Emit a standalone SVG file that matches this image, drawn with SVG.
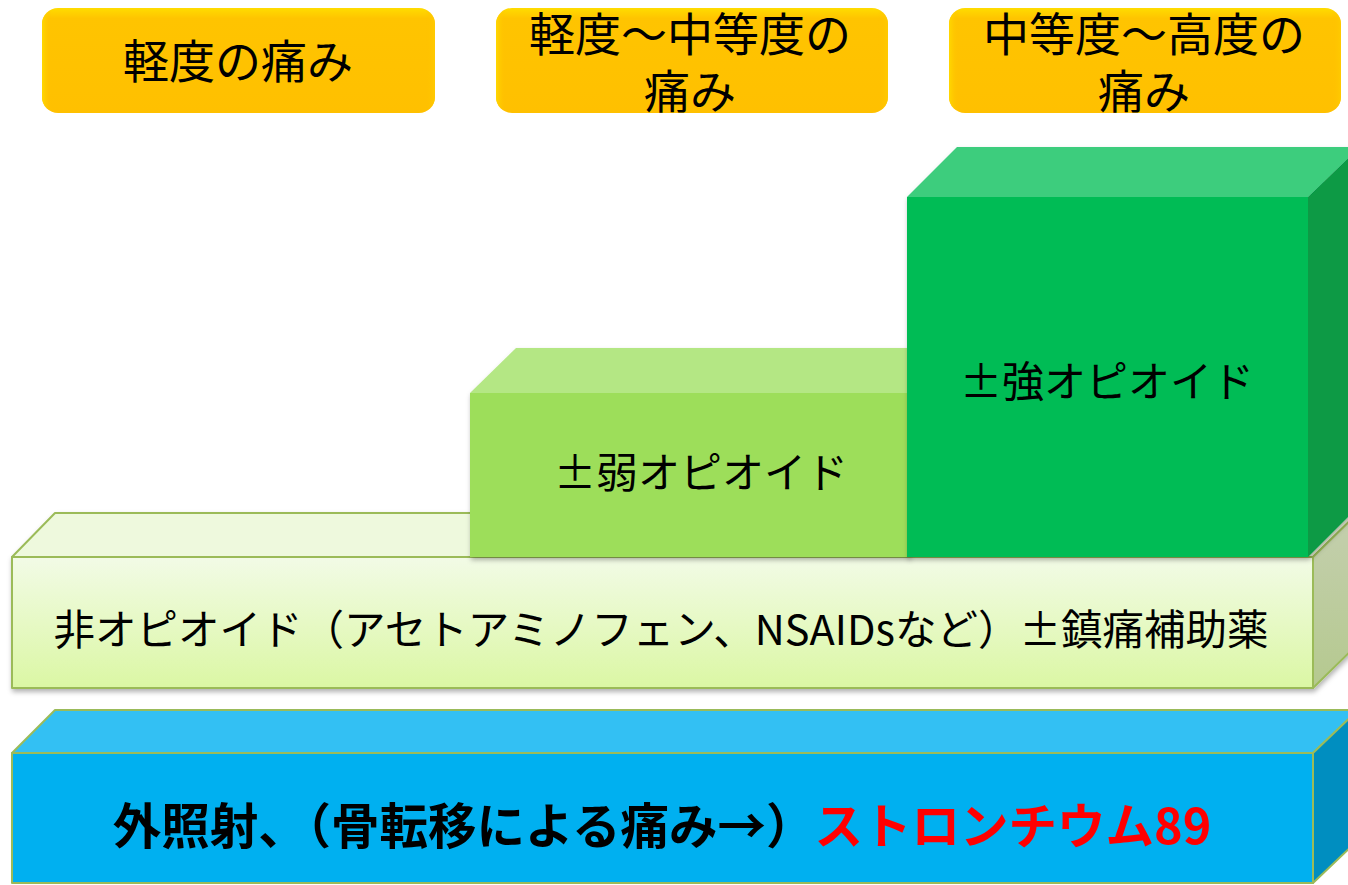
<svg xmlns="http://www.w3.org/2000/svg" width="1348" height="885" viewBox="0 0 1348 885">
<defs>
<linearGradient id="gYel" x1="0" y1="0" x2="0" y2="1">
<stop offset="0" stop-color="#FFDC00"/>
<stop offset="0.1" stop-color="#FFC400"/>
<stop offset="1" stop-color="#FFC000"/>
</linearGradient>
<linearGradient id="gYelL" x1="0" y1="0" x2="1" y2="0">
<stop offset="0" stop-color="#FFD800" stop-opacity="1"/>
<stop offset="0.025" stop-color="#FFC000" stop-opacity="0"/>
<stop offset="0.975" stop-color="#FFC000" stop-opacity="0"/>
<stop offset="1" stop-color="#FFCC00" stop-opacity="0.8"/>
</linearGradient>
<linearGradient id="gLight" x1="0" y1="0" x2="0" y2="1">
<stop offset="0" stop-color="#F2FBE6"/>
<stop offset="1" stop-color="#DBF7A4"/>
</linearGradient>
<linearGradient id="gLightSide" x1="0" y1="0" x2="0" y2="1">
<stop offset="0" stop-color="#C4CFAE"/>
<stop offset="1" stop-color="#B5C98F"/>
</linearGradient>
<filter id="sh" x="-5%" y="-5%" width="110%" height="120%">
<feDropShadow dx="1" dy="3" stdDeviation="2.5" flood-color="#000" flood-opacity="0.3"/>
</filter>
</defs>
<style>
.lbl{font-family:"Noto Sans CJK JP","Noto Sans",sans-serif;fill:#000;text-anchor:middle}
.edge{stroke:#9BBB59;stroke-width:2;stroke-linejoin:round}
</style>

<g id="header-mild">
<rect x="42" y="8" width="393" height="105" rx="16" fill="url(#gYel)"/>
<rect x="42" y="8" width="393" height="105" rx="16" fill="url(#gYelL)"/>
<text class="lbl" x="238" y="78" font-size="46">軽度の痛み</text>
</g>
<g id="header-moderate">
<rect x="496" y="8" width="392" height="105" rx="16" fill="url(#gYel)"/>
<rect x="496" y="8" width="392" height="105" rx="16" fill="url(#gYelL)"/>
<text class="lbl" x="690" y="51" font-size="46">軽度～中等度の</text>
<text class="lbl" x="690" y="108" font-size="46">痛み</text>
</g>
<g id="header-severe">
<rect x="949" y="8" width="392" height="105" rx="16" fill="url(#gYel)"/>
<rect x="949" y="8" width="392" height="105" rx="16" fill="url(#gYelL)"/>
<text class="lbl" x="1144" y="51" font-size="46">中等度～高度の</text>
<text class="lbl" x="1144" y="108" font-size="46">痛み</text>
</g>

<g id="non-opioid">
<g filter="url(#sh)">
<polygon class="edge" points="12,557 55,513 1358,513 1313,557" fill="#EEF9DD"/>
<polygon class="edge" points="1313,557 1358,513 1358,644 1313,688" fill="url(#gLightSide)"/>
<rect class="edge" x="12" y="557" width="1301" height="131" fill="url(#gLight)"/>
</g>
<text class="lbl" x="661" y="645" font-size="41.5">非オピオイド（アセトアミノフェン、NSAIDsなど）±鎮痛補助薬</text>
</g>

<g id="weak-opioid">
<g filter="url(#sh)">
<polygon points="470,393 516,348 956,348 910,393" fill="#B4E784"/>
<rect x="470" y="393" width="440" height="164" fill="#9DDE5A"/>
</g>
<text class="lbl" x="701" y="488" font-size="42">±弱オピオイド</text>
</g>

<g id="strong-opioid">
<g filter="url(#sh)">
<polygon points="907,197 957,147 1360,147 1308,197" fill="#3CCD7D"/>
<polygon points="1308,197 1360,147 1360,505 1308,557" fill="#079A45"/>
<rect x="907" y="197" width="401" height="360" fill="#04BC55"/>
</g>
<text class="lbl" x="1107" y="397" font-size="42">±強オピオイド</text>
</g>

<g id="radiation">
<polygon class="edge" points="12,753 55,710 1358,710 1313,753" fill="#33C0F3"/>
<polygon class="edge" points="1313,753 1358,710 1358,840 1313,883" fill="#008EC0"/>
<rect class="edge" x="12" y="753" width="1301" height="130" fill="#00B0F0"/>
<text class="lbl" x="662" y="844" font-size="48.5" font-weight="bold">外照射、（骨転移による痛み→）<tspan fill="#FF0000">ストロンチウム89</tspan></text>
</g>

<g id="connectors"/>
</svg>
